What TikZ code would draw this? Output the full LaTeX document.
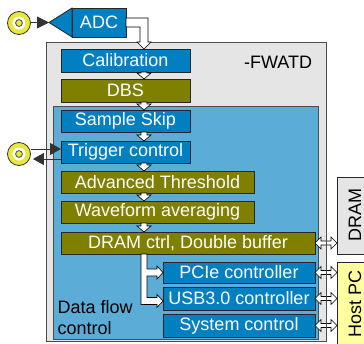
\documentclass[tikz,border=0pt]{standalone}
\usepackage{fontspec}
\setmainfont{Liberation Sans}
\usetikzlibrary{calc,arrows.meta}
\definecolor{bblue}{RGB}{0,127,193}
\definecolor{lblue}{RGB}{91,173,216}
\definecolor{oliv}{RGB}{128,128,0}
\definecolor{lgray}{RGB}{229,229,229}
\definecolor{hostyel}{RGB}{255,255,160}
\definecolor{yel}{RGB}{232,232,60}
\newcommand{\smallarr}[2]{%
  \draw[fatar] let \p1=(ax|-#1.south), \p2=(ax|-#2.north) in
    (\x1-3pt,\y1) -- (\x1-3pt,\y2+6pt) -- (\x1-7pt,\y2+6pt) -- (\x1,\y2)
    -- (\x1+7pt,\y2+6pt) -- (\x1+3pt,\y2+6pt) -- (\x1+3pt,\y1) -- cycle;}
\newcommand{\dblarr}[2]{%
  \draw[fatar] let \p1=(#1.east), \p2=(#2.west|-#1.east) in
    (\x1,\y1) -- (\x1+6pt,\y1+6pt) -- (\x1+6pt,\y1+2pt) -- (\x2-6pt,\y1+2pt)
    -- (\x2-6pt,\y1+6pt) -- (\x2,\y1) -- (\x2-6pt,\y1-6pt) -- (\x2-6pt,\y1-2pt)
    -- (\x1+6pt,\y1-2pt) -- (\x1+6pt,\y1-6pt) -- cycle;}
\begin{document}
\begin{tikzpicture}[x=1pt,y=-1pt,font=\fontsize{18}{21}\selectfont,
  box/.style={draw=black!85,line width=0.8pt,inner sep=0pt,outer sep=0pt,anchor=north west,text=white},
  bluebox/.style={box,fill=bblue},
  olivebox/.style={box,fill=oliv},
  fatar/.style={draw=black,fill=white,line width=0.6pt,line join=miter},
  conn/.style={draw=black!80,line width=0.8pt},
  jack/.style={circle,draw=black!80,line width=0.8pt,fill=yel,minimum size=23pt,inner sep=0pt}]
\useasboundingbox (0,0) rectangle (364,343);
\clip (0,0) rectangle (364,343);
\fill[white] (0,0) rectangle (364,343);
% frames
\node[box,fill=lgray,draw=black!70,minimum width=280pt,minimum height=299pt] (outer) at (46,42) {};
\node[box,fill=lblue,draw=black!70,minimum width=265pt,minimum height=233pt] (dfc) at (53,106) {};
\node[anchor=center] (fwatd) at (278,62) {-FWATD};
\node[anchor=west,align=left,inner sep=0pt] (dfctext) at (57.5,317.5) {Data flow\\control};
% external boxes
\node[box,fill=lgray,text=black,minimum width=35pt,minimum height=77pt] (dramext) at (337,177) {};
\node[rotate=90,anchor=center] at ($(dramext.center)+(0.5,-1)$) {DRAM};
\node[box,fill=hostyel,text=black,minimum width=35pt,minimum height=88pt] (host) at (337,262) {};
\node[rotate=90,anchor=center] at (355,304) {Host PC};
% blocks
\node[bluebox,minimum width=54pt,minimum height=29pt] (adc) at (72,8) {ADC};
\node[bluebox,minimum width=129pt,minimum height=23pt] (cal) at (61,49) {Calibration};
\node[olivebox,minimum width=129pt,minimum height=23pt] (dbs) at (61,79) {DBS};
\node[bluebox,minimum width=129pt,minimum height=22pt] (ss) at (61,110) {Sample Skip};
\node[bluebox,minimum width=129pt,minimum height=22pt] (trig) at (61,141) {Trigger control};
\node[olivebox,minimum width=193pt,minimum height=22pt] (adv) at (61,171) {Advanced Threshold};
\node[olivebox,minimum width=193pt,minimum height=22pt] (wave) at (61,201) {Waveform averaging};
\node[olivebox,minimum width=254pt,minimum height=22pt] (dram) at (61,232) {DRAM ctrl, Double buffer};
\node[bluebox,minimum width=152pt,minimum height=21pt] (pcie) at (163,262) {PCIe controller};
\node[bluebox,minimum width=152pt,minimum height=23pt] (usb) at (163,287) {USB3.0 controller};
\node[bluebox,minimum width=152pt,minimum height=23pt] (sys) at (163,314) {System control};
% ADC input triangle
\coordinate (tip) at ($(adc.west)+(-23,0)$);
\draw[fill=bblue,draw=black!85,line width=0.8pt,line join=miter] (adc.north west) -- (adc.south west) -- (tip) -- cycle;
% jacks
\node[jack] (j1) at (19,23) {};
\fill[white] (j1.center) circle (6.5);
\draw[fill=yel,draw=black!80,line width=0.7pt] (j1.center) circle (3.4);
\node[jack] (j2) at (19,154) {};
\fill[white] (j2.center) circle (6.5);
\draw[fill=yel,draw=black!80,line width=0.7pt] (j2.center) circle (3.4);
\draw[conn,-{Triangle[length=12pt,width=12pt]}] (j1.east|-tip) -- (tip);
\coordinate (tu) at ($(trig.west)+(0,-3)$);
\coordinate (tl) at ($(trig.west)+(0,7)$);
\draw[conn,-{Triangle[length=11pt,width=12pt]}] (j2.east|-tu) -- (tu);
\draw[conn,-{Triangle[length=11pt,width=12pt]}] (tl) -- ($(j2.east|-tl)+(2,0)$);
% fat arrow ADC -> Calibration
\coordinate (ax) at (144,0);
\draw[fatar] let \p1=(adc.east), \p2=(ax|-cal.north) in
  (\x1,\y1+4.5pt) -- (\x2+4pt,\y1+4.5pt) -- (\x2+4pt,\y2+7pt) -- (\x2+7pt,\y2+7pt) -- (\x2,\y2)
  -- (\x2-7pt,\y2+7pt) -- (\x2-4pt,\y2+7pt) -- (\x2-4pt,\y1-4.5pt) -- (\x1,\y1-4.5pt) -- cycle;
% small arrows
\smallarr{cal}{dbs}
\smallarr{dbs}{ss}
\smallarr{ss}{trig}
\smallarr{trig}{adv}
\smallarr{adv}{wave}
\smallarr{wave}{dram}
% branch from DRAM ctrl to PCIe and USB
\draw[fatar] let \p1=(ax|-dram.south), \p2=(pcie.west), \p3=($(usb.west)+(0,2.5)$) in
  (\x1-3pt,\y1) -- (\x1-3pt,\y3-3.5pt) -- (\x3-6pt,\y3-3.5pt) -- (\x3-6pt,\y3-6.5pt) -- (\x3,\y3)
  -- (\x3-6pt,\y3+6.5pt) -- (\x3-6pt,\y3+3.5pt) -- (\x1+3pt,\y3+3.5pt) -- (\x1+3pt,\y2-3.5pt)
  -- (\x2-6pt,\y2-3.5pt) -- (\x2-6pt,\y2-6.5pt) -- (\x2,\y2) -- (\x2-6pt,\y2+6.5pt)
  -- (\x2-6pt,\y2+3.5pt) -- (\x1+3pt,\y2+3.5pt) -- (\x1+3pt,\y1) -- cycle;
% double arrows to DRAM and Host PC
\dblarr{dram}{dramext}
\dblarr{pcie}{host}
\dblarr{usb}{host}
\dblarr{sys}{host}
\draw[draw=black!70,line width=0.8pt] (outer.north east) -- (outer.south east);
\end{tikzpicture}
\end{document}
